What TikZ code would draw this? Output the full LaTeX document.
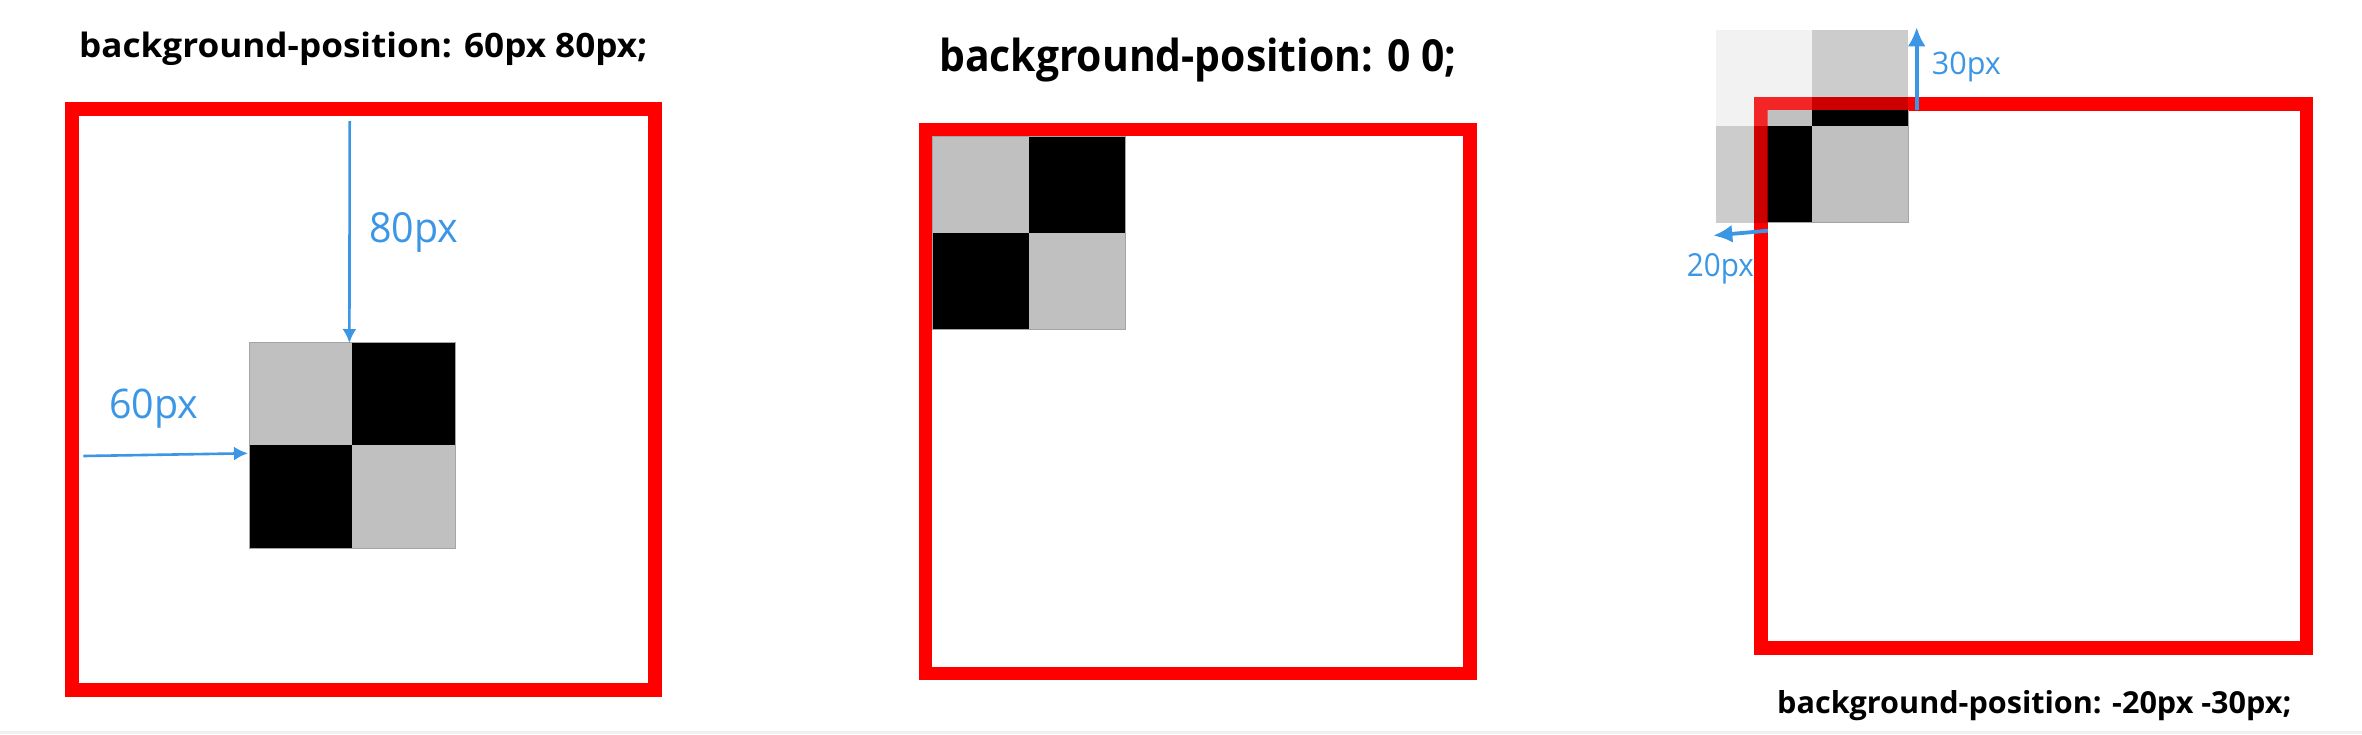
\documentclass[tikz,border=0pt]{standalone}
\usepackage{fontspec}
\setmainfont{Open Sans}
\usetikzlibrary{arrows.meta}
\definecolor{cssred}{RGB}{255,0,0}
\definecolor{cellgray}{RGB}{192,192,192}
\definecolor{edgegray}{RGB}{165,165,165}
\definecolor{lblue}{RGB}{59,150,229}
\definecolor{stripgray}{RGB}{240,240,240}
\tikzset{
  frame/.style={draw=cssred, line width=14pt},
  frameb/.style={draw=cssred, line width=13.4pt},
  checker/.pic={
    \fill[cellgray] (0,0) rectangle (1,1);
    \fill[black] (1,0) rectangle (2,1);
    \fill[black] (0,1) rectangle (1,2);
    \fill[cellgray] (1,1) rectangle (2,2);
  },
  checkeredge/.pic={
    \draw[edgegray, line width=1pt] (0,0) rectangle (2,2);
  },
  title/.style={anchor=base west, inner sep=0pt, text=black},
  lbl/.style={anchor=base west, inner sep=0pt, text=lblue},
  arrA/.style={draw=lblue, line width=2.6pt, -{Latex[length=14pt,width=14pt]}},
  arrB/.style={draw=lblue, line width=3.8pt, -{Latex[length=19pt,width=18pt]}},
}
\begin{document}
\begin{tikzpicture}[x=1pt,y=-1pt]
\useasboundingbox (0,0) rectangle (2362,734);
\fill[white] (0,0) rectangle (2362,734);
\fill[stripgray] (0,730.5) rectangle (2362,734);

% ---------- panel 1 ----------
\node[title] (t1) at (79,57) {\resizebox{568pt}{25.5pt}{\bfseries background-position: 60px 80px;}};
\draw[frame] (72,108.7) rectangle (654.7,689.7);
\pic[scale=103] at (249,342.3) {checker};
\pic[scale=103] at (249,342.3) {checkeredge};
\coordinate (a80s) at (349.7,121);
\coordinate (a80e) at (349.4,343);
\coordinate (a60s) at (83.3,456);
\coordinate (a60e) at (248,453.3);
\draw[arrA] (a80s) -- (a80e);
\draw[arrA] (a60s) -- (a60e);
\node[lbl] (l80) at (369,242) {\resizebox{89pt}{30pt}{80px}};
\node[lbl] (l60) at (109,418) {\resizebox{89pt}{29.5pt}{60px}};

% ---------- panel 2 ----------
\node[title] (t2) at (939,71.7) {\resizebox{517pt}{33.5pt}{\bfseries background-position: 0 0;}};
\draw[frameb] (925.7,129.4) rectangle (1470,673.7);
\pic[scale=96.7] at (932.3,136) {checker};
\pic[scale=96.7] at (932.3,136) {checkeredge};

% ---------- panel 3 ----------
\node[title] (t3) at (1777,713) {\resizebox{514pt}{23pt}{\bfseries background-position: -20px -30px;}};
\draw[frameb] (1761,104) rectangle (2306.3,648);
\begin{scope}[opacity=0.2]
  \pic[scale=96.3] at (1715.7,30) {checker};
\end{scope}
\begin{scope}
  \clip (1767.7,110.7) rectangle (2299.6,641.3);
  \pic[scale=96.3] at (1715.7,30) {checker};
  \pic[scale=96.3] at (1715.7,30) {checkeredge};
\end{scope}
\coordinate (a30s) at (1916.7,110);
\coordinate (a30e) at (1916.7,27.3);
\coordinate (a20s) at (1768,230.7);
\coordinate (a20e) at (1713.3,235.5);
\draw[arrB] (a30s) -- (a30e);
\draw[arrB] (a20s) -- (a20e);
\node[lbl] (l30) at (1931.7,74) {\resizebox{69pt}{22.5pt}{30px}};
\node[lbl] (l20) at (1686.7,276.7) {\resizebox{67pt}{23pt}{20px}};
\end{tikzpicture}
\end{document}
